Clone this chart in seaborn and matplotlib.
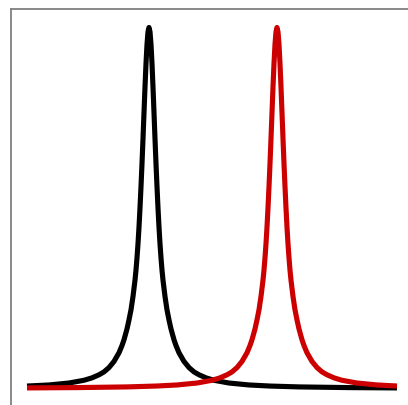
import matplotlib
matplotlib.use("Agg")
import matplotlib.pyplot as plt
import seaborn as sns
import pandas as pd

sns.set_style("white")

# Spectral channel (x) and relative intensity (y)
black_x = [0, 22, 42, 57, 65, 72, 77, 82, 87, 92, 95, 97, 100, 102, 104, 106, 108,
           109, 110, 111, 112, 113, 114, 115, 116, 117, 118, 119, 120, 121, 122, 123, 124, 125,
           126, 127, 128, 129, 130, 131, 132, 133, 134, 135,
           136, 138, 140, 142, 144, 147, 149, 152, 157, 162, 167, 172, 179, 187, 202, 222, 243,
           272, 322, 370]
black_y = [0.0068, 0.0098, 0.0152, 0.0228, 0.0295, 0.038, 0.046, 0.058, 0.075, 0.099, 0.119,
           0.135, 0.165, 0.190, 0.218, 0.255, 0.300,
           0.328, 0.362, 0.401, 0.447, 0.50, 0.559, 0.623, 0.692, 0.764, 0.835, 0.900, 0.953,
           0.988, 1.0, 0.988, 0.953, 0.900, 0.835, 0.764, 0.692, 0.623, 0.559, 0.50, 0.447,
           0.401, 0.362, 0.328,
           0.300, 0.255, 0.218, 0.190, 0.165, 0.135, 0.119, 0.099, 0.075, 0.058, 0.046, 0.038,
           0.0295, 0.0228, 0.0152, 0.0098, 0.0068, 0.0044, 0.0025, 0.0016]

red_x = [0, 50, 100, 130, 150, 170, 185, 193, 200, 205, 210, 215, 220, 223, 225, 228, 230, 232,
         234, 236,
         237, 238, 239, 240, 241, 242, 243, 244, 245, 246, 247, 248, 249, 250, 251, 252, 253,
         254, 255, 256, 257, 258, 259, 260, 261, 262, 263,
         264, 266, 268, 270, 272, 275, 277, 280, 285, 290, 295, 300, 307, 315, 330, 350, 370]
red_y = [0.0016, 0.0025, 0.0044, 0.0069, 0.0098, 0.0152, 0.0228, 0.0295, 0.038, 0.046, 0.058,
         0.075, 0.099, 0.119, 0.135, 0.165, 0.190, 0.218, 0.255, 0.300,
         0.328, 0.362, 0.401, 0.447, 0.50, 0.559, 0.623, 0.692, 0.764, 0.835, 0.900, 0.953,
         0.988, 1.0, 0.988, 0.953, 0.900, 0.835, 0.764, 0.692, 0.623, 0.559, 0.50, 0.447,
         0.401, 0.362, 0.328,
         0.300, 0.255, 0.218, 0.190, 0.165, 0.135, 0.119, 0.099, 0.075, 0.058, 0.046, 0.038,
         0.0295, 0.0228, 0.0152, 0.0098, 0.0069]

black_df = pd.DataFrame({"channel": black_x, "intensity": black_y})
red_df = pd.DataFrame({"channel": red_x, "intensity": red_y})

W, H = 408, 406
fig = plt.figure(figsize=(W / 100, H / 100), dpi=100)
ax = fig.add_axes([10.5 / W, 0.0, 1 - 10.5 / W, (H - 9.5) / H])

lw = 3.7
sns.lineplot(data=black_df, x="channel", y="intensity", color="black", linewidth=lw,
             estimator=None, sort=False, ax=ax, solid_capstyle="butt", solid_joinstyle="round")
sns.lineplot(data=red_df, x="channel", y="intensity", color="#cc0000", linewidth=lw,
             estimator=None, sort=False, ax=ax, solid_capstyle="butt", solid_joinstyle="round")

ax.set_xlim(-16.5, 381)
ax.set_ylim(-0.0457, 1.0526)
ax.set_xticks([])
ax.set_yticks([])
ax.set_xlabel("")
ax.set_ylabel("")
for side in ["right", "bottom"]:
    ax.spines[side].set_visible(False)
for side in ["left", "top"]:
    ax.spines[side].set_color("#808080")
    ax.spines[side].set_linewidth(1.3)

fig.savefig("out.png", dpi=100, facecolor="white")
